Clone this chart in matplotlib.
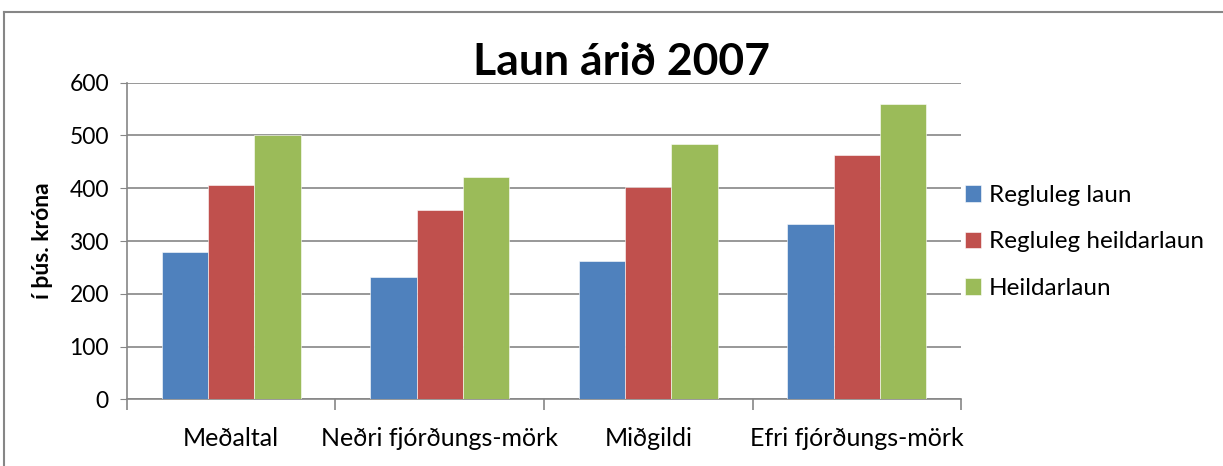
import numpy as np
import matplotlib.pyplot as plt
from matplotlib.lines import Line2D

plt.rcParams['font.family'] = ['Lato', 'DejaVu Sans']

# gögn lesin af myndinni
categories = ["Meðaltal", "Neðri fjórðungs-mörk", "Miðgildi", "Efri fjórðungs-mörk"]
regluleg_laun = [280, 232, 263, 332]
regluleg_heildarlaun = [406, 359, 402, 463]
heildarlaun = [500, 421, 484, 559]
series_names = ["Regluleg laun", "Regluleg heildarlaun", "Heildarlaun"]
colors = ["#4f81bd", "#c0504d", "#9bbb59"]
yticks = [0, 100, 200, 300, 400, 500, 600]

fig = plt.figure(figsize=(12.23, 4.66), dpi=100)
ax = fig.add_axes([0.1038, 0.1431, 0.682, 0.6794])

x = np.arange(len(categories))
w = 0.222
for i, (vals, name) in enumerate(zip([regluleg_laun, regluleg_heildarlaun, heildarlaun], series_names)):
    ax.bar(x + (i - 1) * w, vals, w, color=colors[i], label=name, zorder=3,
           edgecolor="white", linewidth=0.4)

ax.set_xlim(-0.5, len(categories) - 0.5)
ax.set_ylim(0, 600)
ax.set_yticks(yticks)
ax.tick_params(axis='y', labelsize=16.5, length=5, color="#868686", pad=8)
ax.grid(axis='y', color="#868686", linewidth=1.2, zorder=0)

# tick merki milli flokka, textar undir
ax.set_xticks(np.arange(len(categories) + 1) - 0.5)
ax.set_xticklabels([])
ax.tick_params(axis='x', length=8, color="#868686", width=1.2)
ax.set_xticks(x, minor=True)
ax.set_xticklabels(categories, minor=True, fontsize=18)
ax.tick_params(axis='x', which='minor', length=0, pad=20)

for s in ["top", "right"]:
    ax.spines[s].set_visible(False)
for s in ["left", "bottom"]:
    ax.spines[s].set_color("#868686")
    ax.spines[s].set_linewidth(1.2)

ax.set_ylabel("í þús. króna", fontsize=16.5, fontweight="bold", labelpad=12)
fig.text(0.508, 0.868, "Laun árið 2007", ha="center", va="center", fontsize=32, fontweight="bold")

ax.legend(loc="center left", bbox_to_anchor=(0.99, 0.497), frameon=False, fontsize=17.5,
          handlelength=0.65, handleheight=0.65, handletextpad=0.35, labelspacing=1.05,
          borderaxespad=0.1)

# rammi um myndina
fig.add_artist(Line2D([4 / 1223, 4 / 1223], [0, 1 - 12 / 466], color="#868686", linewidth=1.5))
fig.add_artist(Line2D([4 / 1223, 1], [1 - 12 / 466, 1 - 12 / 466], color="#868686", linewidth=1.5))

fig.savefig("out.png", dpi=100)
